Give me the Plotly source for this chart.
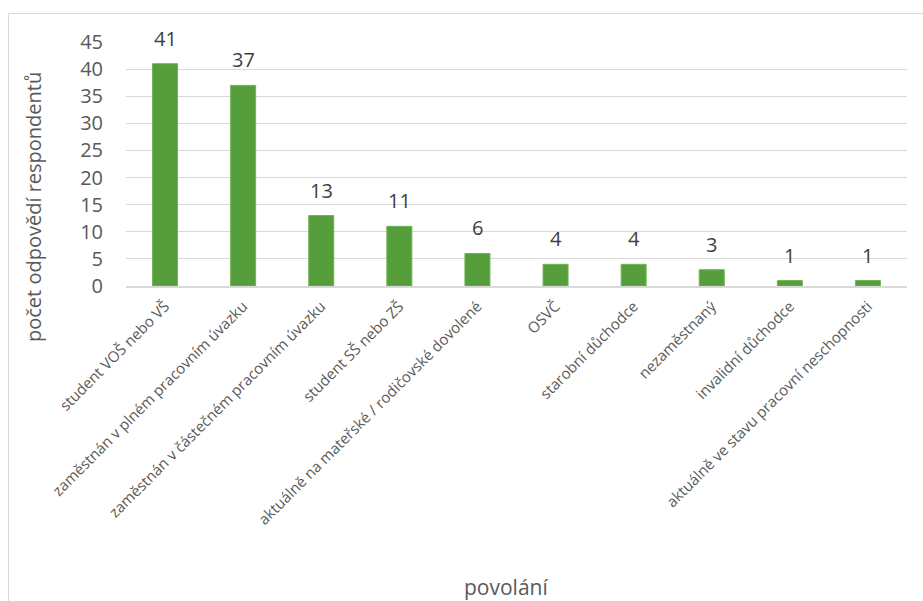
import plotly.graph_objects as go

categories = [
    "student VOŠ nebo VŠ",
    "zaměstnán v plném pracovním úvazku",
    "zaměstnán v částečném pracovním úvazku",
    "student SŠ nebo ZŠ",
    "aktuálně na mateřské / rodičovské dovolené",
    "OSVČ",
    "starobní důchodce",
    "nezaměstnaný",
    "invalidní důchodce",
    "aktuálně ve stavu pracovní neschopnosti",
]
values = [41, 37, 13, 11, 6, 4, 4, 3, 1, 1]
y_ticks = [0, 5, 10, 15, 20, 25, 30, 35, 40, 45]

FONT = "Open Sans"
W, H = 923, 601
L, R, T, B = 126, 16, 42, 315
pw, ph = W - L - R, H - T - B

def px_x(p):
    return (p - L) / pw

def px_y(p):
    return (H - B - p) / ph

fig = go.Figure()
fig.add_trace(go.Bar(
    x=categories, y=values,
    marker=dict(color="#559E3B", line=dict(color="#6DB552", width=1)),
    width=0.32,
    hoverinfo="x+y",
))

for c, v in zip(categories, values):
    fig.add_annotation(x=c, y=v, text=str(v), showarrow=False,
                       yanchor="bottom", yshift=10,
                       font=dict(family=FONT, size=20, color="#404040"))

fig.add_annotation(xref="paper", yref="paper", x=px_x(33), y=px_y(207),
                   xanchor="center", yanchor="middle",
                   text="počet odpovědí respondentů", textangle=-90, showarrow=False,
                   font=dict(family=FONT, size=20, color="#595959"))
fig.add_annotation(xref="paper", yref="paper", x=px_x(506), y=px_y(587),
                   xanchor="center", yanchor="middle",
                   text="povolání", showarrow=False,
                   font=dict(family=FONT, size=21, color="#595959"))

fig.add_shape(type="rect", xref="paper", yref="paper",
              x0=px_x(8.5), x1=px_x(940), y0=px_y(620), y1=px_y(13.5),
              line=dict(color="#D9D9D9", width=1), layer="below")

fig.update_layout(
    width=W, height=H,
    margin=dict(l=L, r=R, t=T, b=B, autoexpand=False),
    plot_bgcolor="white", paper_bgcolor="white",
    showlegend=False,
    font=dict(family=FONT, color="#595959"),
    xaxis=dict(
        tickangle=-45, tickfont=dict(family=FONT, size=15, color="#595959"),
        showgrid=False, showline=True, linecolor="#D9D9D9", linewidth=1.5,
        ticks="outside", ticklen=4, tickcolor="rgba(0,0,0,0)", automargin=False,
    ),
    yaxis=dict(
        range=[0, 45], tickvals=y_ticks,
        tickfont=dict(family=FONT, size=20, color="#595959"),
        showgrid=True, gridcolor="#D9D9D9", gridwidth=1.2,
        zeroline=False, showline=False, ticks="outside", ticklen=18,
        tickcolor="rgba(0,0,0,0)", automargin=False,
    ),
)

fig.write_html("out.html")
